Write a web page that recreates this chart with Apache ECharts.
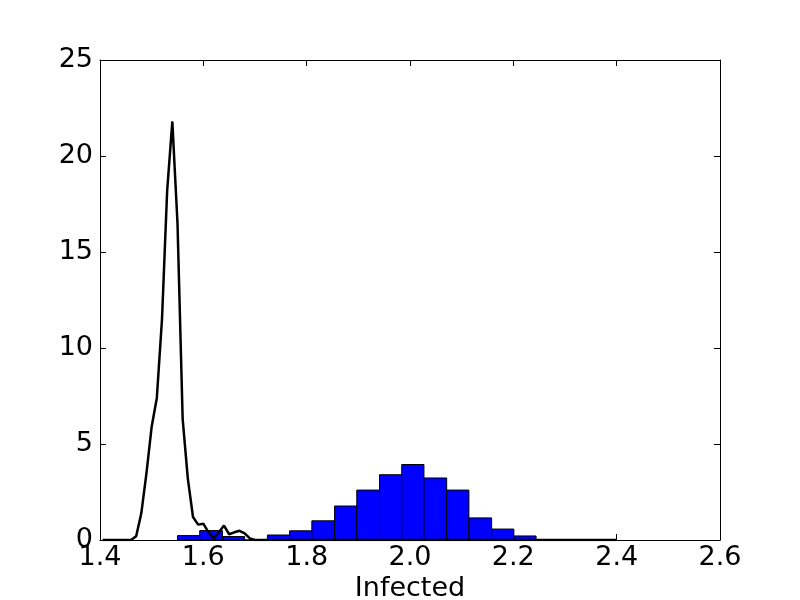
<!DOCTYPE html>
<html>
<head>
<meta charset="utf-8">
<title>Infected</title>
<script src="https://cdn.jsdelivr.net/npm/echarts@6/dist/echarts.min.js"></script>
<style>
  html, body { margin: 0; padding: 0; background: #fff; }
  #chart { width: 800px; height: 600px; }
</style>
</head>
<body>
<div id="chart"></div>
<script>
// histogram bin edges and heights
var binEdges = [1.550, 1.593, 1.637, 1.680, 1.724, 1.767, 1.810, 1.854, 1.897,
  1.941, 1.984, 2.027, 2.071, 2.114, 2.158, 2.201, 2.244]
var binHeights = [0.23, 0.49, 0.18, 0, 0.26, 0.48, 1.0, 1.77, 2.6, 3.4, 3.93,
  3.23, 2.6, 1.15, 0.57, 0.21]

// density curve
var curveX = [1.405, 1.46, 1.47, 1.48, 1.49, 1.50, 1.51, 1.52, 1.53, 1.54, 1.55,
  1.56, 1.57, 1.58, 1.59, 1.60, 1.61, 1.62, 1.63, 1.64, 1.65, 1.66, 1.67, 1.68,
  1.69, 1.70, 2.40]
var curveY = [0, 0, 0.2, 1.4, 3.5, 5.9, 7.4, 11.5, 18.2, 21.8, 16.5,
  6.3, 3.2, 1.2, 0.8, 0.85, 0.4, 0.1, 0.4, 0.75, 0.3, 0.4, 0.48, 0.35,
  0.08, 0, 0]

var xTicks = { min: 1.4, max: 2.6, step: 0.2 }
var yTicks = { min: 0, max: 25, step: 5 }

var font = 'DejaVu Sans'

var bins = binHeights.map(function (h, i) {
  return [binEdges[i], binEdges[i + 1], h]
})
var curve = curveX.map(function (x, i) {
  return [x, curveY[i]]
})

var chart = echarts.init(document.getElementById('chart'))

var axisCommon = {
  type: 'value',
  splitLine: { show: false },
  axisLine: { show: true, onZero: false, lineStyle: { color: '#000', width: 1 } },
  axisTick: { show: true, inside: true, length: 6, lineStyle: { color: '#000' } }
}

chart.setOption({
  animation: false,
  grid: { left: 100, right: 80, top: 60, bottom: 60, outerBoundsMode: 'none' },
  xAxis: [
    Object.assign({}, axisCommon, {
      min: xTicks.min,
      max: xTicks.max,
      interval: xTicks.step,
      name: 'Infected',
      nameLocation: 'middle',
      nameGap: 29,
      nameTextStyle: { fontFamily: font, fontSize: 27, color: '#000' },
      axisLabel: {
        margin: 4,
        fontFamily: font,
        fontSize: 27,
        color: '#000',
        formatter: function (v) { return v.toFixed(1) }
      }
    }),
    Object.assign({}, axisCommon, {
      position: 'top',
      min: xTicks.min,
      max: xTicks.max,
      interval: xTicks.step,
      axisLabel: { show: false }
    })
  ],
  yAxis: [
    Object.assign({}, axisCommon, {
      min: yTicks.min,
      max: yTicks.max,
      interval: yTicks.step,
      axisLabel: {
        margin: 7,
        fontFamily: font,
        fontSize: 27,
        color: '#000'
      }
    }),
    Object.assign({}, axisCommon, {
      position: 'right',
      min: yTicks.min,
      max: yTicks.max,
      interval: yTicks.step,
      axisLabel: { show: false }
    })
  ],
  series: [
    {
      type: 'custom',
      data: bins,
      z: 2,
      renderItem: function (params, api) {
        var start = api.coord([api.value(0), 0])
        var end = api.coord([api.value(1), api.value(2)])
        return {
          type: 'rect',
          shape: {
            x: start[0],
            y: end[1],
            width: end[0] - start[0],
            height: start[1] - end[1]
          },
          style: { fill: '#0000ff', stroke: '#000', lineWidth: 1 }
        }
      }
    },
    {
      type: 'line',
      data: curve,
      z: 3,
      showSymbol: false,
      symbol: 'none',
      lineStyle: { color: '#000', width: 2.5 }
    }
  ]
})
</script>
</body>
</html>
